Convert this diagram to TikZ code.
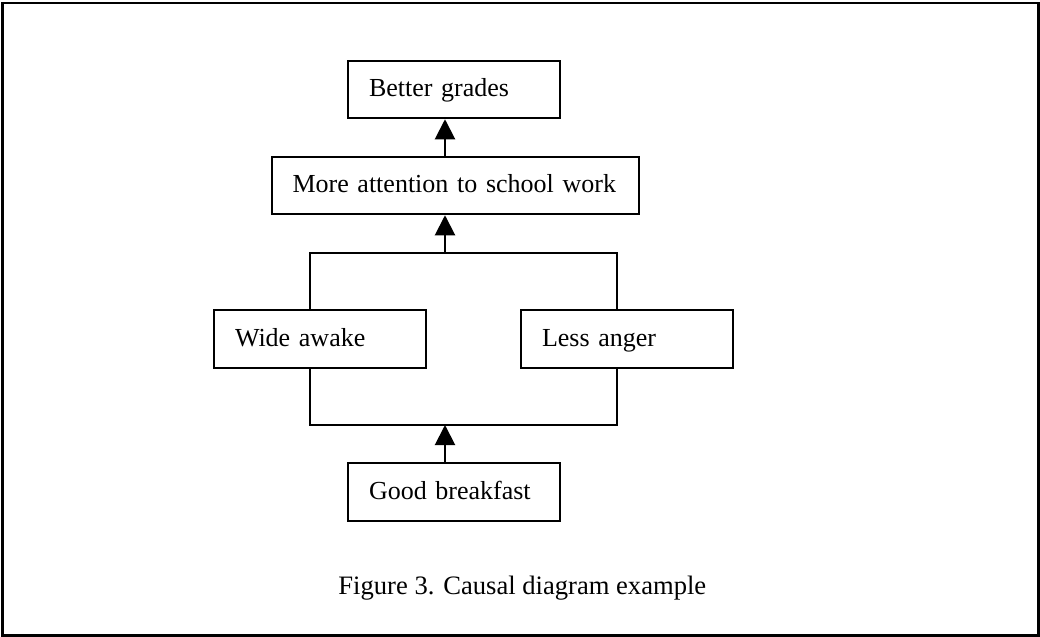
\documentclass[tikz,border=0pt]{standalone}
\usepackage{fontspec}
\setmainfont{Liberation Serif}
\usetikzlibrary{arrows.meta}
\begin{document}
\begin{tikzpicture}[x=0.5pt,y=-0.5pt,
  box/.style={draw,line width=1pt,rectangle,inner xsep=10.5pt,inner ysep=0pt,
    minimum height=28.75pt,align=left,text height=9.5pt,text depth=2.5pt,
    font=\fontsize{13pt}{15pt}\selectfont},
  wire/.style={line width=1pt},
  arr/.style={line width=1pt,-{Triangle[width=10pt,length=10pt]}}]
\useasboundingbox (0,0) rectangle (1040,637);
\draw[line width=1.4pt] (2.5,3) rectangle (1038.5,635.5);
\node[box,text width=85pt] (bg) at (454,89.5) {Better grades};
\node[box,text width=162.5pt] (ma) at (455,185.5) {More attention to school work};
\node[box,text width=85pt] (wa) at (320,339) {Wide awake};
\node[box,text width=85pt] (la) at (627,339) {Less anger};
\node[box,text width=85pt] (gb) at (454,492) {Good breakfast};
\coordinate (tl) at (310,253);
\coordinate (tr) at (617,253);
\coordinate (tm) at (445,253);
\coordinate (bl) at (310,425);
\coordinate (br) at (617,425);
\coordinate (bm) at (445,425);
\draw[wire] (wa.north -| tl) -- (tl) -- (tr) -- (la.north -| tr);
\draw[wire] (wa.south -| bl) -- (bl) -- (br) -- (la.south -| br);
\draw[arr] (gb.north -| bm) -- (bm);
\draw[arr] (tm) -- (ma.south -| tm);
\draw[arr] (ma.north -| tm) -- (bg.south -| tm);
\node[font=\fontsize{13.3pt}{16pt}\selectfont,anchor=base west,inner sep=0pt] (cap) at (338,594) {Figure 3. Causal diagram example};
\end{tikzpicture}
\end{document}
